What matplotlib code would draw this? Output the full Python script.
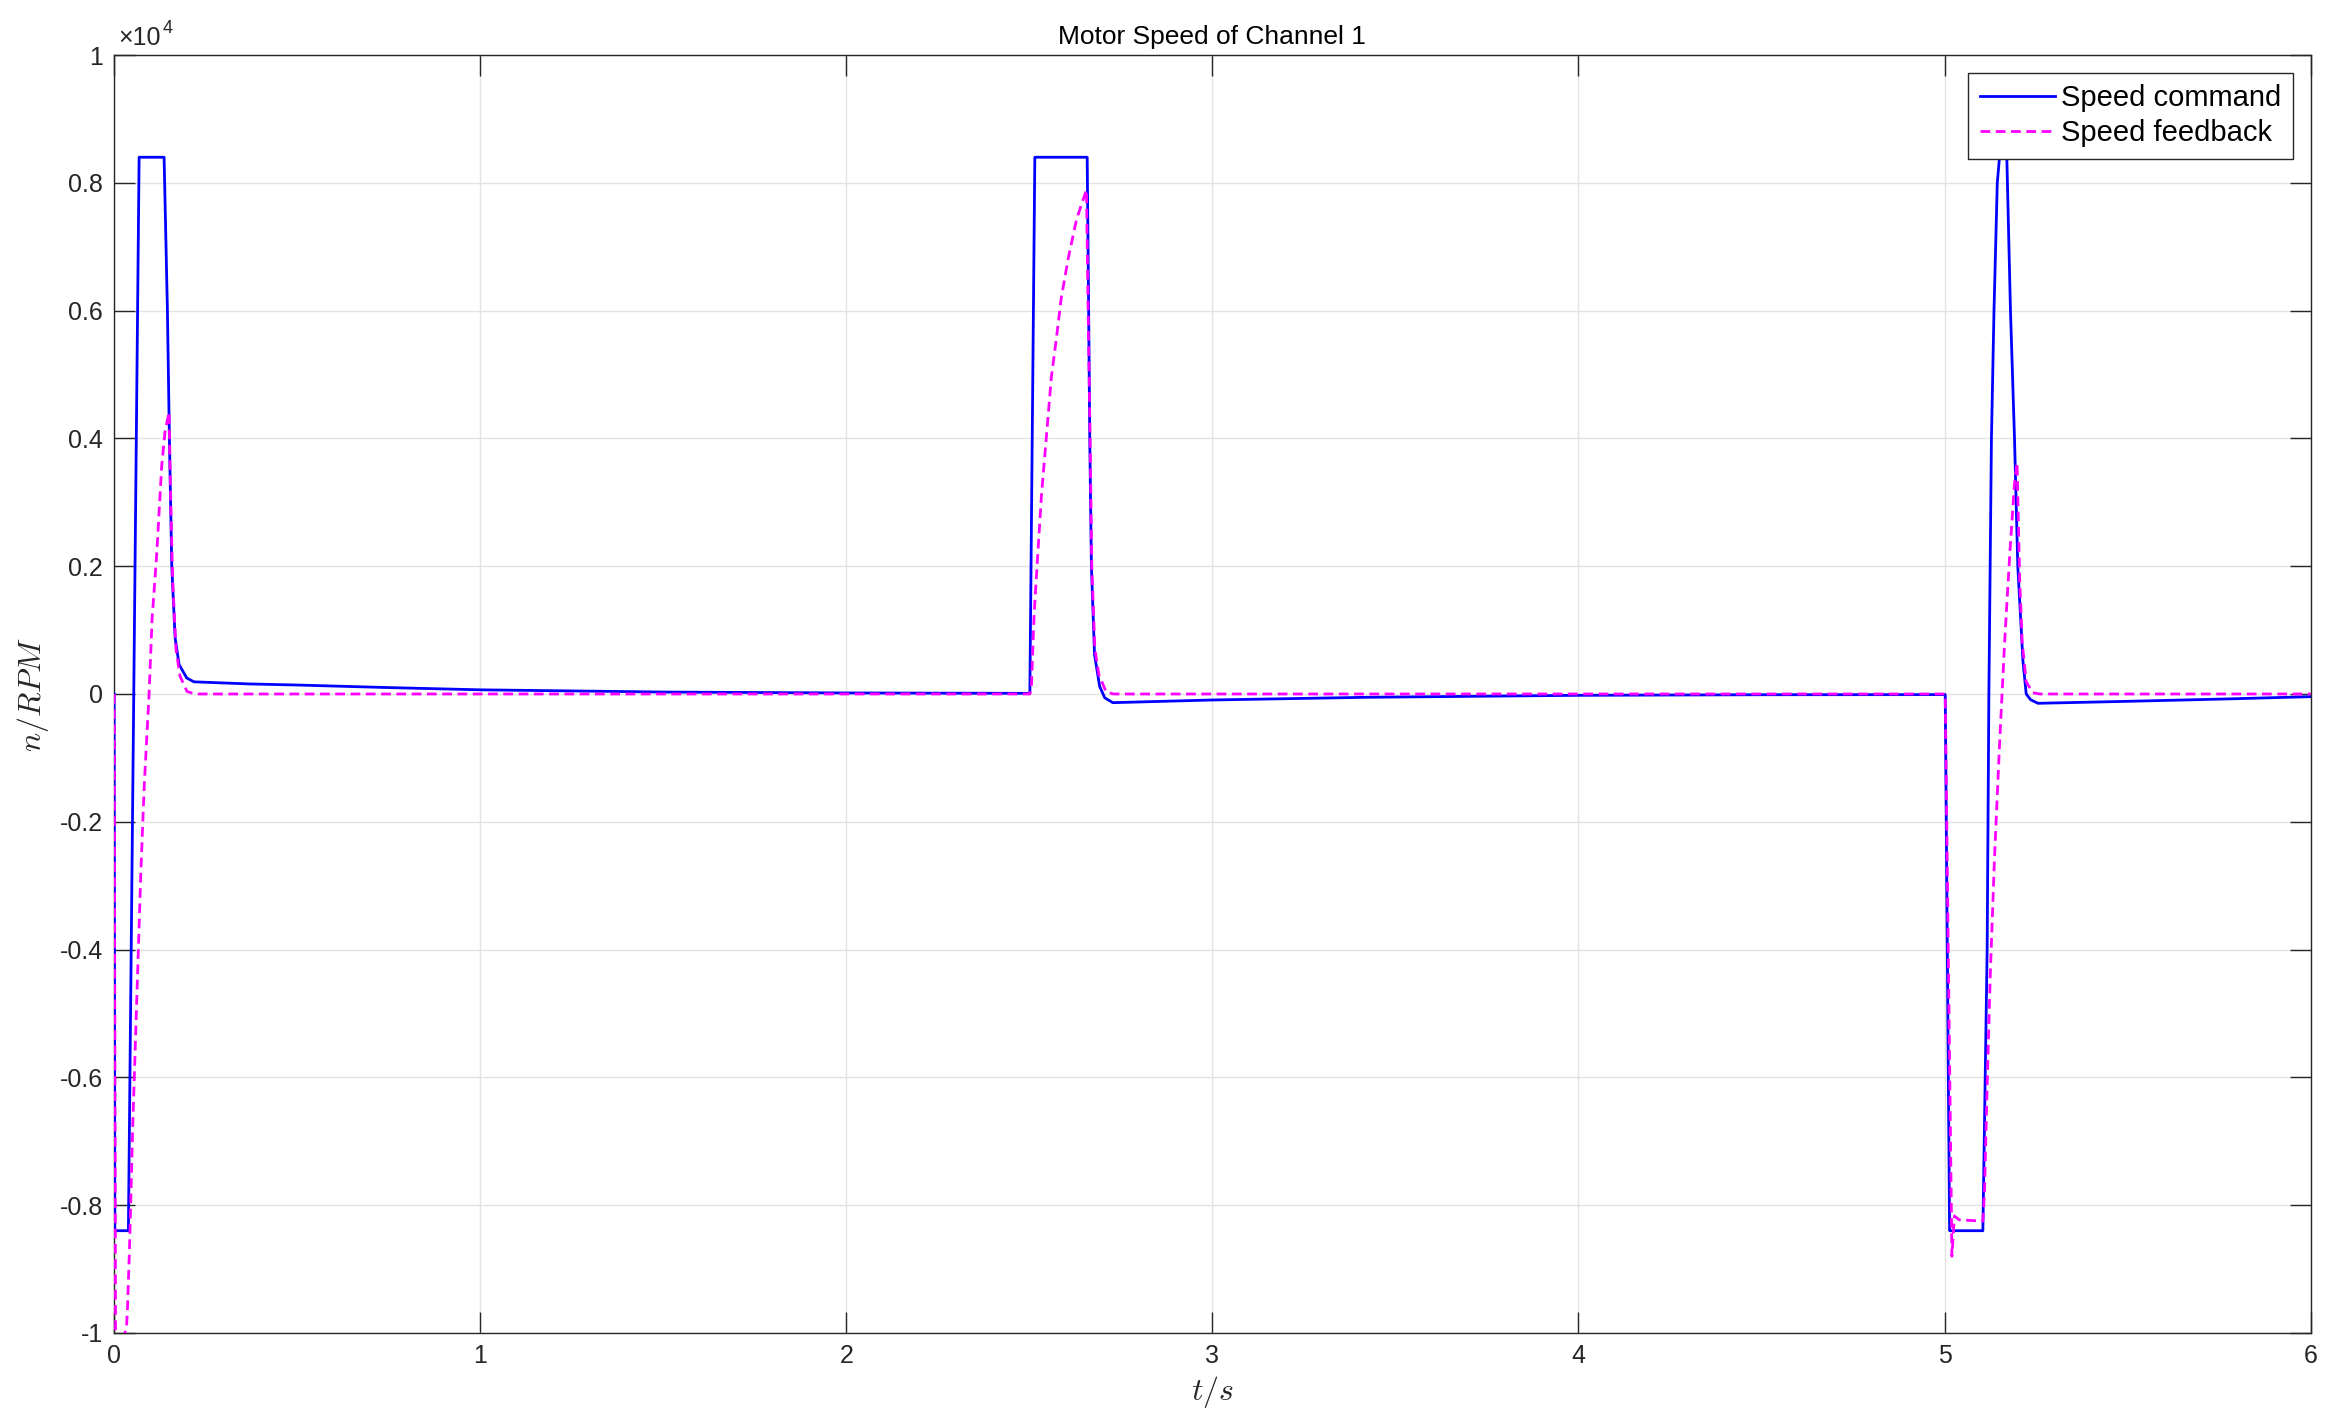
"""
Motor speed of channel 1: speed command vs speed feedback.
"""
import matplotlib
matplotlib.use('Agg')
import matplotlib.pyplot as plt

# speed command (RPM)
t_cmd = [0, 0.002, 0.039, 0.0683, 0.1365, 0.1456, 0.151, 0.1575, 0.1666, 0.1775,
         0.1985, 0.218, 0.37, 0.5, 0.75, 1.0, 1.5, 2.0, 2.5014, 2.515, 2.658,
         2.662, 2.665, 2.6695, 2.678, 2.692, 2.706, 2.728, 2.8, 3.0, 3.42, 4.0,
         4.5, 5.0018, 5.0137, 5.1046, 5.1163, 5.121, 5.128, 5.135, 5.144, 5.150,
         5.170, 5.180, 5.191, 5.200, 5.214, 5.223, 5.235, 5.255, 5.5, 5.77, 6.0]
n_cmd = [0, -8400, -8400, 8400, 8400, 6000, 4000, 2000, 880, 460,
         250, 190, 157, 140, 100, 65, 30, 16, 10, 8400, 8400,
         6000, 4000, 2000, 620, 120, -60, -136, -125, -94, -52, -21,
         -12, -10, -8400, -8400, -4000, 0, 4000, 6000, 8000, 8400,
         8400, 6000, 4000, 2000, 520, 0, -90, -146, -115, -78, -42]

# speed feedback (RPM)
t_fb = [0, 0.004, 0.012, 0.025, 0.034, 0.0364, 0.0419, 0.051, 0.062, 0.073,
        0.082, 0.0955, 0.1038, 0.1165, 0.130, 0.139, 0.150, 0.1547, 0.160,
        0.169, 0.180, 0.199, 0.22, 2.5014, 2.5057, 2.513, 2.5195, 2.533, 2.551,
        2.560, 2.574, 2.587, 2.606, 2.629, 2.656, 2.660, 2.666, 2.6705, 2.679,
        2.69, 2.71, 2.73, 5.0018, 5.020, 5.027, 5.04, 5.1046, 5.109, 5.1155,
        5.1246, 5.1364, 5.15, 5.164, 5.178, 5.191, 5.198, 5.205, 5.212, 5.223,
        5.241, 5.26, 6.0]
n_fb = [0, -10300, -10200, -10100, -9900, -9630, -8700, -6740, -4760, -2790,
        -1470, 0, 1180, 2200, 3570, 4100, 4410, 2980, 1780,
        700, 280, 40, 0, 0, 120, 1240, 1860, 3100, 4330,
        4950, 5570, 6190, 6810, 7430, 7890, 6200, 4000, 2000, 700,
        300, 30, 0, 0, -8800, -8170, -8230, -8250, -7800, -6300,
        -4430, -2560, -810, 810, 2180, 3300, 3620, 1810, 810, 190,
        20, 0, 0]

y_ticks = [-10000, -8000, -6000, -4000, -2000, 0, 2000, 4000, 6000, 8000, 10000]
y_labels = ["-1", "-0.8", "-0.6", "-0.4", "-0.2", "0", "0.2", "0.4", "0.6", "0.8", "1"]
x_ticks = [0, 1, 2, 3, 4, 5, 6]

plt.rcParams['font.family'] = ['Liberation Sans', 'DejaVu Sans']
plt.rcParams['mathtext.fontset'] = 'cm'

dark = '#262626'
fig = plt.figure(figsize=(23.48, 14.25), dpi=100)
ax = fig.add_axes([0.0486, 0.0646, 0.9355, 0.8968])

ax.grid(True, color='#e3e3e3', lw=1.0, zorder=0)
ax.set_axisbelow(True)
ax.plot(t_cmd, n_cmd, color=(0, 0, 1), lw=2.0, label="Speed command", zorder=3)
ax.plot(t_fb, n_fb, color=(1, 0, 1), lw=2.0, dashes=(3.5, 2.0),
        label="Speed feedback", zorder=4)

ax.set_xlim(0, 6)
ax.set_ylim(-10000, 10000)
ax.set_xticks(x_ticks)
ax.set_xticklabels([str(v) for v in x_ticks])
ax.set_yticks(y_ticks)
ax.set_yticklabels(y_labels)
ax.tick_params(direction='in', length=15, width=1.0, colors=dark, labelsize=18,
               top=True, right=True, pad=8)
for s in ax.spines.values():
    s.set_color(dark)
    s.set_linewidth(1.0)

# exponent label, matlab style
base = ax.text(0.002, 1.004, "\u00d710", transform=ax.transAxes, fontsize=18,
               color=dark, ha='left', va='bottom')
ax.annotate("4", xy=(1.0, 0.55), xycoords=base, xytext=(1, 0),
            textcoords='offset points', fontsize=13, color=dark,
            ha='left', va='bottom')
ax.set_title("Motor Speed of Channel 1", fontsize=19, color='black', pad=8)
ax.set_xlabel(r"$t/s$", fontsize=23, color=dark, labelpad=4)
ax.set_ylabel(r"$n/RPM$", fontsize=23, color=dark, labelpad=6)

leg = ax.legend(loc='upper right', fontsize=21, handlelength=2.6,
                handletextpad=0.2, borderpad=0.4, labelspacing=0.25,
                borderaxespad=0.6, fancybox=False, framealpha=1)
leg.get_frame().set_edgecolor(dark)
leg.get_frame().set_linewidth(1.0)
leg.set_zorder(10)

plt.savefig("out.png")
